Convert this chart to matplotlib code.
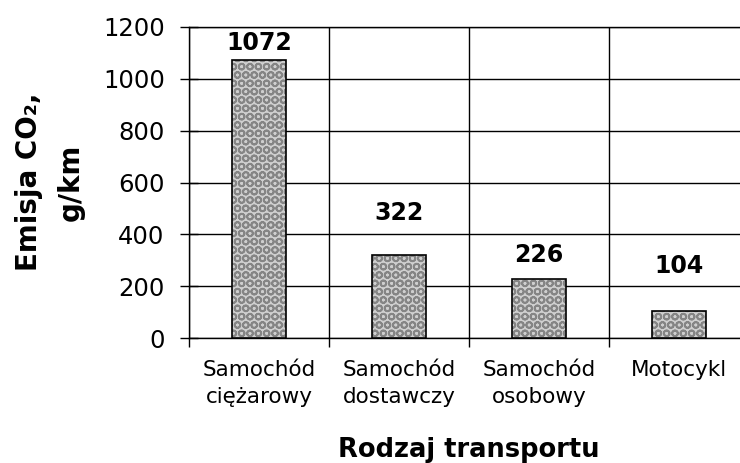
import matplotlib
matplotlib.use("Agg")
import matplotlib.pyplot as plt
import numpy as np

categories = ["Samochód\nciężarowy", "Samochód\ndostawczy", "Samochód\nosobowy", "Motocykl"]
emissions = [1072, 322, 226, 104]
yticks = [0, 200, 400, 600, 800, 1000, 1200]

# label gaps above bars (points), the original labels sit unevenly
label_gap = [4, 21, 9, 24]

plt.rcParams['font.family'] = ['DejaVu Sans']
plt.rcParams['hatch.linewidth'] = 1.3

fig = plt.figure(figsize=(7.4, 4.63), dpi=100)
ax = fig.add_axes([189/740, 1-338/463, 560/740, 311/463])

x = np.arange(len(categories))
ax.bar(x, emissions, width=0.39, color="#cfcfcf", edgecolor="#858585",
       hatch="OO", linewidth=0, zorder=3)
ax.bar(x, emissions, width=0.39, fill=False, edgecolor="black",
       linewidth=1.2, zorder=4)

for xi, v, g in zip(x, emissions, label_gap):
    ax.annotate(str(v), (xi, v), xytext=(0, g), textcoords="offset points",
                ha="center", va="bottom", fontsize=17, fontweight="bold", zorder=5)

ax.set_xlim(-0.5, len(categories) - 0.5)
ax.set_ylim(0, 1200)
ax.set_yticks(yticks)
ax.tick_params(axis="y", direction="inout", length=13, width=1, labelsize=17.5, pad=11)

# boundaries get tick marks and grid lines, centres get the labels
ax.set_xticks(np.arange(len(categories) + 1) - 0.5)
ax.set_xticklabels([])
ax.set_xticks(x, minor=True)
ax.set_xticklabels(categories, minor=True, fontsize=15.5, linespacing=1.4)
ax.tick_params(axis="x", which="major", direction="out", length=6.5, width=1)
ax.tick_params(axis="x", which="minor", length=0, pad=16)

ax.grid(True, which="major", color="black", linewidth=1, zorder=0)
ax.set_axisbelow(True)
for s in ax.spines.values():
    s.set_color("black")
    s.set_linewidth(1)

fig.text(50/740, 1-182/463, "Emisja CO₂,\ng/km", rotation=90, ha="center", va="center",
         fontsize=20, fontweight="bold", linespacing=1.6, multialignment="center")
fig.text(469/740, 1-450/463, "Rodzaj transportu", ha="center", va="center",
         fontsize=18.5, fontweight="bold")

plt.savefig("out.png", dpi=100)
